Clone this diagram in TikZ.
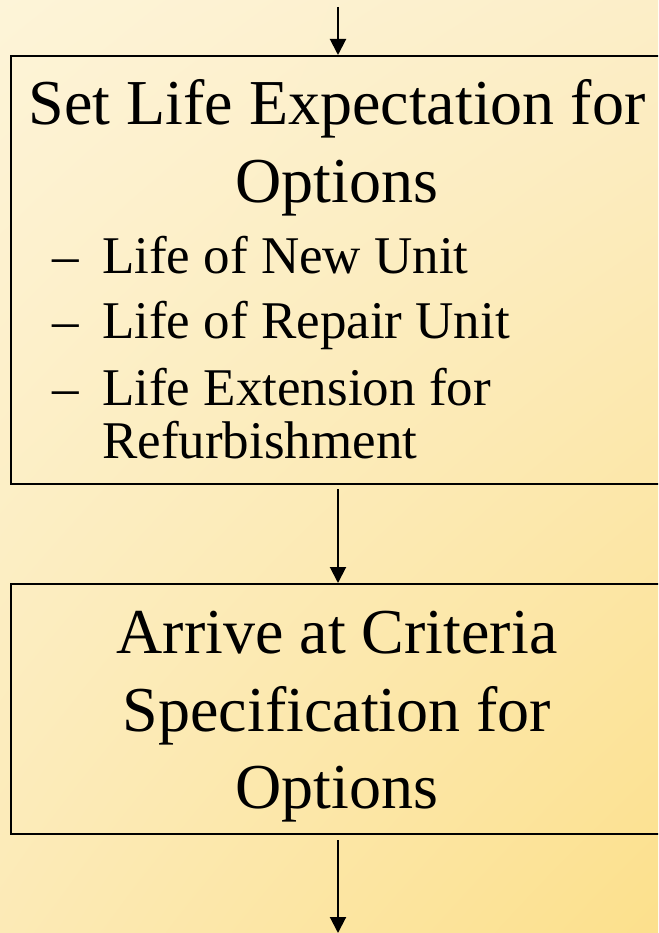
\documentclass[tikz,border=0pt]{standalone}
\usepackage{fontspec}
\setmainfont{Liberation Serif}
\usetikzlibrary{arrows.meta,shadings}

\definecolor{bgTL}{RGB}{253,244,216}
\definecolor{bgTR}{RGB}{252,238,200}
\definecolor{bgBL}{RGB}{252,234,182}
\definecolor{bgBR}{RGB}{252,224,140}

\tikzset{
  stagebox/.style={draw=black, line width=2pt, inner sep=0pt, anchor=north west},
  flow/.style={line width=2pt, -{Triangle[width=16pt,length=16pt]}},
  headline/.style={font=\fontsize{64}{64}\selectfont, anchor=base, inner sep=0pt},
  itemline/.style={font=\fontsize{53}{53}\selectfont, anchor=base west, inner sep=0pt},
}

\begin{document}
\begin{tikzpicture}[x=1pt,y=-1pt]
  \useasboundingbox (0,0) rectangle (658,933);
  \clip (0,0) rectangle (658,933);
  % diagonal background wash
  \shade[upper left=bgTL, upper right=bgTR, lower left=bgBL, lower right=bgBR]
    (0,0) rectangle (658,933);

  % the two stages; their right sides run past the page edge
  \node[stagebox, minimum width=700pt, minimum height=428pt] (life) at (10,55) {};
  \node[stagebox, minimum width=700pt, minimum height=250pt] (criteria) at (10,583) {};

  % first stage text
  \node[headline] (lifeA) at (337,125) {Set Life Expectation for};
  \node[headline] (lifeB) at (337,203) {Options};
  \node[itemline] (d1) at (52,273) {–};
  \node[itemline] (i1) at (102,273) {Life of New Unit};
  \node[itemline] (d2) at (52,338) {–};
  \node[itemline] (i2) at (102,338) {Life of Repair Unit};
  \node[itemline] (d3) at (52,405) {–};
  \node[itemline] (i3) at (102,405) {Life Extension for};
  \node[itemline] (i3b) at (102,458) {Refurbishment};

  % second stage text
  \node[headline] (critA) at (337,653) {Arrive at Criteria};
  \node[headline] (critB) at (337,731) {Specification for};
  \node[headline] (critC) at (337,808) {Options};

  % connectors
  \coordinate (inflow) at (338,7);
  \coordinate (outflow) at (338,933);
  \draw[flow] (inflow) -- (inflow |- life.north);
  \draw[flow, shorten <=4pt] (life.south -| inflow) -- (criteria.north -| inflow);
  \draw[flow, shorten <=5pt] (criteria.south -| inflow) -- (outflow);
\end{tikzpicture}
\end{document}
